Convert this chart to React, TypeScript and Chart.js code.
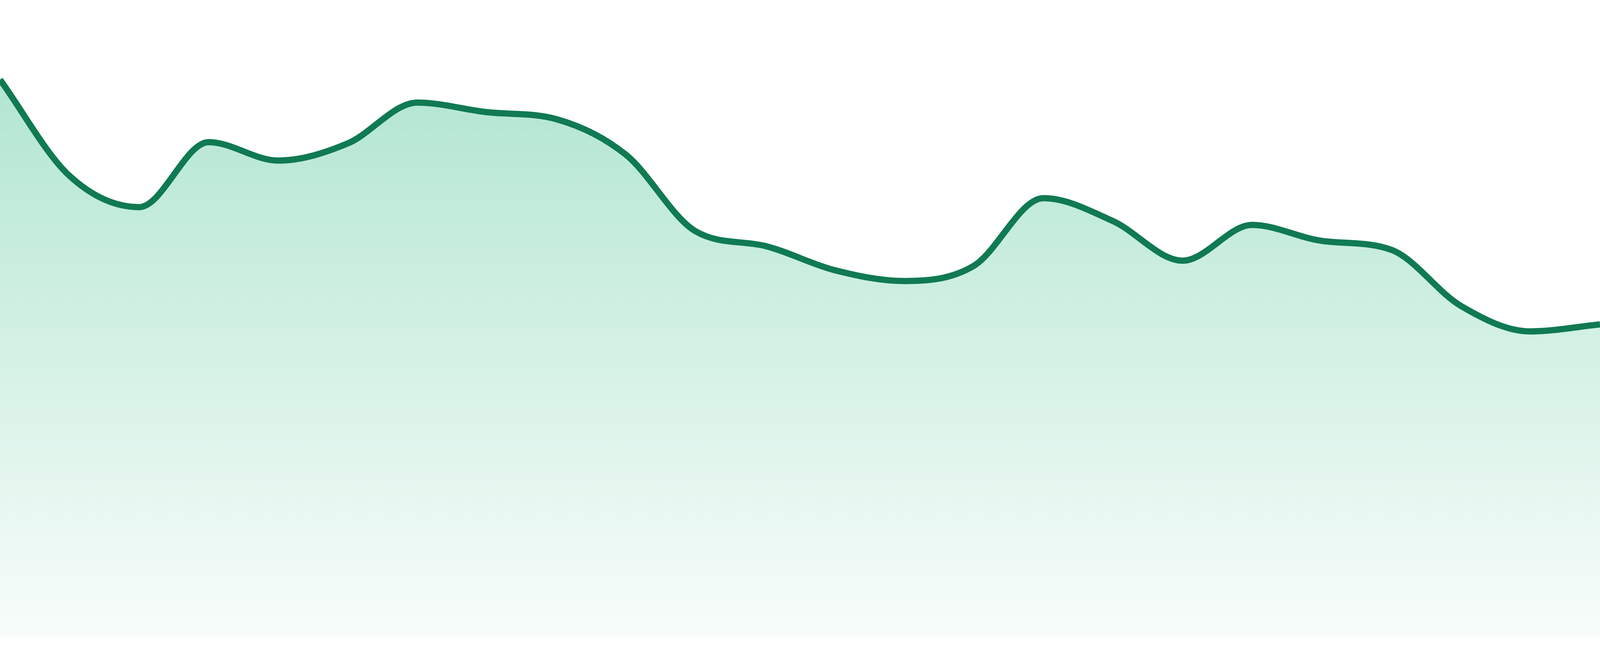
import { useEffect, useRef } from 'react';
import { Chart, registerables } from 'chart.js';

Chart.register(...registerables);

// 24 points, evenly spaced across the full width
const labels = [
  'W01', 'W02', 'W03', 'W04', 'W05', 'W06', 'W07', 'W08',
  'W09', 'W10', 'W11', 'W12', 'W13', 'W14', 'W15', 'W16',
  'W17', 'W18', 'W19', 'W20', 'W21', 'W22', 'W23', 'W24',
];

const values = [
  87.5, 72.4, 67.5, 77.7, 74.8, 77.5, 83.9, 82.4,
  81.3, 75.7, 63.7, 61.4, 57.6, 55.9, 58.3, 68.9,
  65.3, 59.1, 64.7, 62.2, 60.8, 52.0, 48.0, 49.1,
];

const yMin = 0;
const yMax = 100;

const LINE_COLOR = '#107a52';

export default function App() {
  const canvasRef = useRef<HTMLCanvasElement | null>(null);
  const chartRef = useRef<Chart | null>(null);

  useEffect(() => {
    document.body.style.margin = '0';
    if (!canvasRef.current) return;
    const ctx = canvasRef.current.getContext('2d');
    if (!ctx) return;

    // reference frame is 1680 tall; the browser may clamp the width, so only scale by height
    const sy = window.innerHeight / 1680;

    if (chartRef.current) chartRef.current.destroy();

    chartRef.current = new Chart(ctx, {
      type: 'line',
      data: {
        labels,
        datasets: [{
          data: values,
          borderColor: LINE_COLOR,
          borderWidth: 16 * sy,
          cubicInterpolationMode: 'monotone',
          pointRadius: 0,
          pointHoverRadius: 0,
          fill: 'start',
          // vertical fade, strong at the top of the plot, almost white at the bottom
          backgroundColor: (c) => {
            const area = c.chart.chartArea;
            if (!area) return 'rgba(38,184,124,0.2)';
            const g = c.chart.ctx.createLinearGradient(0, area.top, 0, area.bottom);
            g.addColorStop(0, 'rgba(38,184,124,0.40)');
            g.addColorStop(1, 'rgba(38,184,124,0.03)');
            return g;
          },
        }],
      },
      options: {
        animation: false,
        responsive: true,
        maintainAspectRatio: false,
        layout: { padding: { top: 0, right: 0, left: 0, bottom: Math.round(48 * sy) } },
        plugins: {
          legend: { display: false },
          tooltip: { enabled: false },
        },
        scales: {
          x: { display: false, offset: false },
          y: { display: false, min: yMin, max: yMax },
        },
      },
    });

    return () => { chartRef.current?.destroy(); chartRef.current = null; };
  }, []);

  return (
    <div style={{ position: 'fixed', left: 0, top: 0, width: '100vw', height: '100vh', background: '#fff' }}>
      <canvas ref={canvasRef} />
    </div>
  );
}
